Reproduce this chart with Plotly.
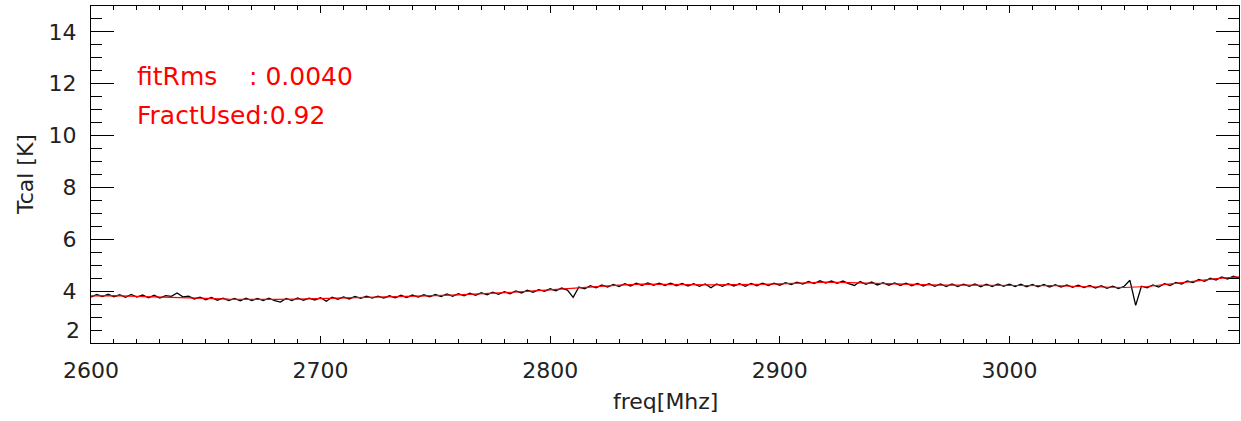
import plotly.graph_objects as go

# Frequency channels of the measured Tcal spectrum (MHz), 2.5 MHz spacing
freq_start = 2600.0
freq_step = 2.5
tcal_measured = [
    3.77, 3.87, 3.79, 3.88, 3.78, 3.86, 3.76, 3.87, 3.77, 3.85,
    3.74, 3.84, 3.73, 3.83, 3.80, 3.93, 3.78, 3.81, 3.70, 3.77,
    3.67, 3.76, 3.65, 3.73, 3.64, 3.72, 3.63, 3.73, 3.64, 3.72,
    3.64, 3.73, 3.63, 3.58, 3.72, 3.64, 3.74, 3.65, 3.73, 3.66,
    3.75, 3.61, 3.77, 3.69, 3.78, 3.70, 3.80, 3.72, 3.81, 3.73,
    3.81, 3.73, 3.82, 3.74, 3.84, 3.75, 3.85, 3.77, 3.86, 3.78,
    3.87, 3.79, 3.89, 3.80, 3.90, 3.82, 3.92, 3.84, 3.94, 3.86,
    3.96, 3.88, 3.98, 3.90, 4.01, 3.93, 4.04, 3.96, 4.06, 3.99,
    4.09, 4.01, 4.12, 4.04, 3.76, 4.16, 4.09, 4.21, 4.13, 4.24,
    4.16, 4.26, 4.18, 4.29, 4.20, 4.31, 4.22, 4.32, 4.23, 4.31,
    4.22, 4.31, 4.21, 4.30, 4.20, 4.29, 4.19, 4.28, 4.13, 4.28,
    4.19, 4.29, 4.20, 4.29, 4.19, 4.30, 4.21, 4.31, 4.22, 4.31,
    4.23, 4.33, 4.25, 4.35, 4.27, 4.37, 4.29, 4.40, 4.31, 4.39,
    4.30, 4.39, 4.29, 4.22, 4.37, 4.26, 4.35, 4.24, 4.33, 4.23,
    4.32, 4.22, 4.31, 4.21, 4.30, 4.20, 4.29, 4.19, 4.28, 4.18,
    4.28, 4.18, 4.27, 4.19, 4.28, 4.17, 4.27, 4.18, 4.28, 4.19,
    4.27, 4.18, 4.27, 4.17, 4.26, 4.17, 4.26, 4.16, 4.25, 4.16,
    4.24, 4.15, 4.23, 4.14, 4.22, 4.12, 4.21, 4.11, 4.19, 4.10,
    4.19, 4.42, 3.45, 4.19, 4.13, 4.24, 4.16, 4.29, 4.22, 4.34,
    4.27, 4.39, 4.33, 4.45, 4.38, 4.50, 4.43, 4.55, 4.47, 4.58,
    4.50,
]
freq_measured = [freq_start + i * freq_step for i in range(len(tcal_measured))]

# Fitted (smooth) Tcal curve
freq_fit = [2600 + 10 * i for i in range(51)]
tcal_fit = [
    3.82, 3.83, 3.80, 3.78, 3.76, 3.72, 3.69, 3.68, 3.68, 3.69,
    3.71, 3.74, 3.76, 3.78, 3.80, 3.83, 3.86, 3.89, 3.94, 3.99,
    4.05, 4.10, 4.18, 4.23, 4.27, 4.27, 4.25, 4.24, 4.24, 4.26,
    4.28, 4.32, 4.35, 4.33, 4.30, 4.27, 4.25, 4.23, 4.23, 4.23,
    4.23, 4.22, 4.21, 4.18, 4.15, 4.14, 4.18, 4.27, 4.38, 4.48,
    4.55,
]

x_ticks = [2600, 2700, 2800, 2900, 3000]
y_ticks = [2, 4, 6, 8, 10, 12, 14]
fit_rms_text = "fitRms\u00a0\u00a0\u00a0\u00a0: 0.0040"
fract_used_text = "FractUsed:0.92"

FONT = "DejaVu Sans"
AX = "#000000"
TXT = "#222222"

fig = go.Figure()
fig.add_trace(go.Scatter(x=freq_measured, y=tcal_measured, mode="lines",
                         line=dict(color="black", width=1.3), showlegend=False))
fig.add_trace(go.Scatter(x=freq_fit, y=tcal_fit, mode="lines",
                         line=dict(color="#ff0000", width=1.2), showlegend=False))

fig.add_annotation(x=2619, y=12.27, xref="x", yref="y", text=fit_rms_text,
                   showarrow=False, xanchor="left", yanchor="middle",
                   font=dict(family=FONT, size=25, color="#ff0000"))
fig.add_annotation(x=2619, y=10.76, xref="x", yref="y", text=fract_used_text,
                   showarrow=False, xanchor="left", yanchor="middle",
                   font=dict(family=FONT, size=25, color="#ff0000"))
# bottom y label, lifted above the corner as in the original
fig.add_annotation(x=0, y=2.5, xref="paper", yref="y", text=str(y_ticks[0]),
                   showarrow=False, xanchor="right", yanchor="middle", xshift=-9,
                   font=dict(family=FONT, size=22, color=TXT))
fig.add_annotation(x=0.5, y=-0.175, xref="paper", yref="paper", text="freq[Mhz]",
                   showarrow=False, xanchor="center", yanchor="middle",
                   font=dict(family=FONT, size=22, color=TXT))
fig.add_annotation(x=-0.057, y=0.5, xref="paper", yref="paper", text="Tcal [K]",
                   showarrow=False, xanchor="center", yanchor="middle", textangle=-90,
                   font=dict(family=FONT, size=22, color=TXT))

fig.update_layout(
    width=1241, height=421,
    margin=dict(l=91, r=2, t=6, b=78),
    paper_bgcolor="white", plot_bgcolor="white",
    font=dict(family=FONT, size=22, color=TXT),
)
fig.update_xaxes(
    range=[2600, 3100], tickmode="array", tickvals=x_ticks,
    ticktext=[str(v) for v in x_ticks], automargin=False,
    ticks="inside", ticklen=7, tickwidth=1, tickcolor=AX,
    showline=True, linecolor=AX, linewidth=1, mirror="ticks",
    showgrid=False, zeroline=False, ticklabelstandoff=8,
    minor=dict(ticks="inside", ticklen=4, tickwidth=1, tickcolor=AX,
               tick0=2600, dtick=10, showgrid=False),
    tickfont=dict(family=FONT, size=22, color=TXT),
)
fig.update_yaxes(
    range=[2, 15], tickmode="array", tickvals=y_ticks[1:],
    ticktext=[str(v) for v in y_ticks[1:]], automargin=False,
    ticks="inside", ticklen=23, tickwidth=1, tickcolor=AX,
    showline=True, linecolor=AX, linewidth=1, mirror="ticks",
    showgrid=False, zeroline=False, ticklabelstandoff=9,
    minor=dict(ticks="inside", ticklen=11, tickwidth=1, tickcolor=AX,
               tick0=2, dtick=0.5, showgrid=False),
    tickfont=dict(family=FONT, size=22, color=TXT),
)

fig.write_html("out.html", config={"displayModeBar": False},
               post_script="document.body.style.margin='0px';document.body.style.overflow='hidden';")
